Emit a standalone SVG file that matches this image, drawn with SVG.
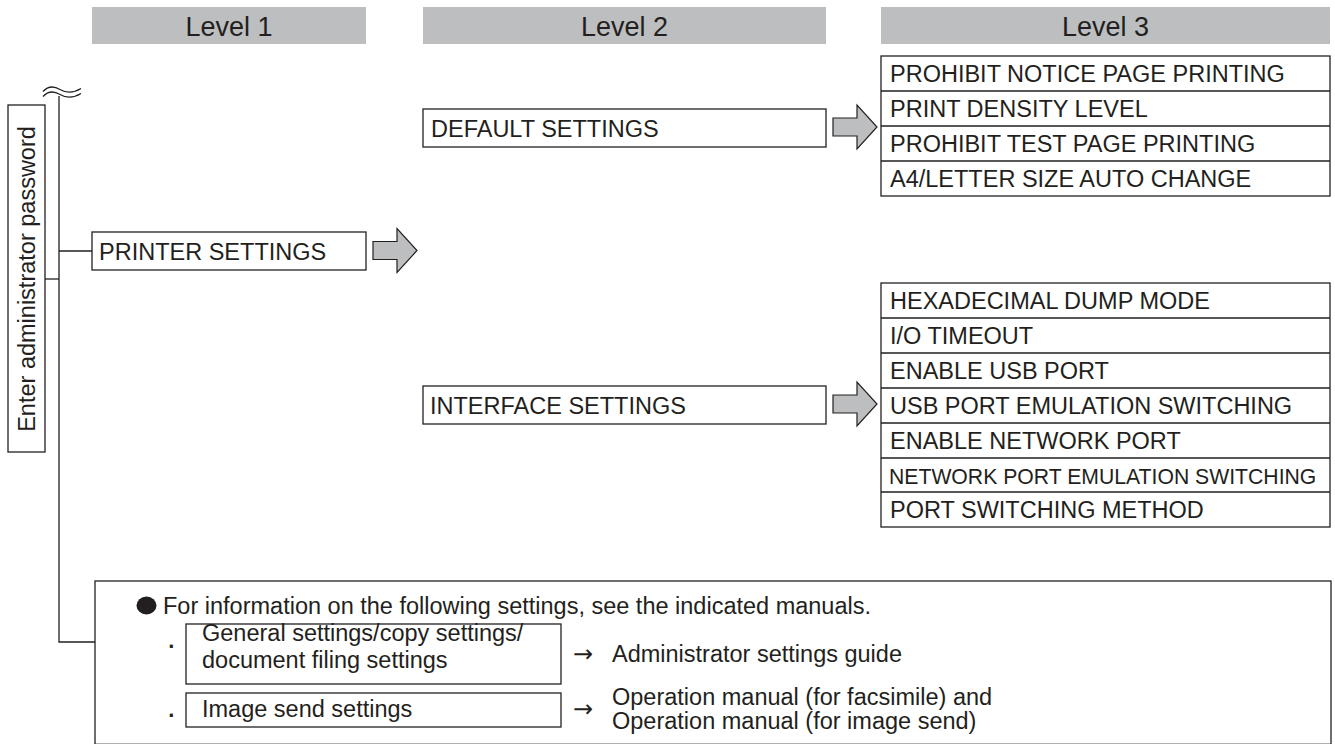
<svg xmlns="http://www.w3.org/2000/svg" width="1335" height="744" viewBox="0 0 1335 744">
<style>
text{font-family:"Liberation Sans",Arial,Helvetica,sans-serif;fill:#231f20}
.hdr{fill:#bcbec0}
.ht{font-size:27px;text-anchor:middle}
.box{fill:#fff;stroke:#231f20;stroke-width:1.3}
.t{font-size:23.5px}
.ln{fill:none;stroke:#231f20;stroke-width:1.3}
.arr{fill:#bcbec0;stroke:#231f20;stroke-width:1.2;stroke-linejoin:miter}
.to{font-family:"DejaVu Sans",sans-serif;font-size:24px}
.dot{font-size:32px}
</style>
<defs>
<path id="bigarrow" d="M0,-9 H24 V-22 L44,0 L24,22 V9 H0 Z"/>
</defs>
<g id="headers">
<rect class="hdr" x="92" y="7" width="274" height="37"/>
<text class="ht" x="229" y="36">Level 1</text>
<rect class="hdr" x="423" y="7" width="403" height="37"/>
<text class="ht" x="624.5" y="36">Level 2</text>
<rect class="hdr" x="881" y="7" width="449" height="37"/>
<text class="ht" x="1105.5" y="36">Level 3</text>
</g>
<g id="connectors">
<path class="ln" d="M43,91.5 C48,86 54,86 60,89.5 S72,94 81,88.5"/>
<path class="ln" d="M43,96.5 C48,91 54,91 60,94.5 S72,99 81,93.5"/>
<path class="ln" d="M59,96 V642 H95"/>
<path class="ln" d="M45,279 H59"/>
<path class="ln" d="M59,251 H92"/>
<use href="#bigarrow" class="arr" x="373" y="250.5"/>
<use href="#bigarrow" class="arr" x="833" y="127"/>
<use href="#bigarrow" class="arr" x="833" y="404"/>
</g>
<g id="node-enter-password">
<rect class="box" x="8" y="105" width="37" height="347"/>
<text class="t" transform="translate(35,279) rotate(-90)" text-anchor="middle">Enter administrator password</text>
</g>
<g id="node-printer-settings">
<rect class="box" x="92" y="232" width="274" height="38"/>
<text class="t" x="99" y="259.5">PRINTER SETTINGS</text>
</g>
<g id="node-default-settings">
<rect class="box" x="423" y="109" width="403" height="38"/>
<text class="t" x="431" y="136.5">DEFAULT SETTINGS</text>
</g>
<g id="node-interface-settings">
<rect class="box" x="423" y="386" width="403" height="38"/>
<text class="t" x="430" y="413.5">INTERFACE SETTINGS</text>
</g>
<g id="node-default-list">
<rect class="box" x="881" y="56" width="449" height="140"/>
<path class="ln" d="M881,91 H1330 M881,126 H1330 M881,161 H1330"/>
<text class="t" x="890" y="82">PROHIBIT NOTICE PAGE PRINTING</text>
<text class="t" x="890" y="117">PRINT DENSITY LEVEL</text>
<text class="t" x="890" y="152">PROHIBIT TEST PAGE PRINTING</text>
<text class="t" x="890" y="187">A4/LETTER SIZE AUTO CHANGE</text>
</g>
<g id="node-interface-list">
<rect class="box" x="881" y="283" width="449" height="244"/>
<path class="ln" d="M881,318 H1330 M881,353 H1330 M881,388 H1330 M881,423 H1330 M881,458 H1330 M881,492 H1330"/>
<text class="t" x="890" y="309">HEXADECIMAL DUMP MODE</text>
<text class="t" x="890" y="344">I/O TIMEOUT</text>
<text class="t" x="890" y="379">ENABLE USB PORT</text>
<text class="t" x="890" y="414">USB PORT EMULATION SWITCHING</text>
<text class="t" x="890" y="449">ENABLE NETWORK PORT</text>
<text class="t" x="889" y="483.5" style="font-size:21.2px">NETWORK PORT EMULATION SWITCHING</text>
<text class="t" x="890" y="518">PORT SWITCHING METHOD</text>
</g>
<g id="node-note">
<rect class="box" x="95" y="581" width="1236" height="163.3"/>
<ellipse cx="146.5" cy="605.5" rx="10" ry="9" fill="#231f20"/>
<text class="t" x="163" y="614">For information on the following settings, see the indicated manuals.</text>
<text class="dot" x="166" y="654.5">·</text>
<rect class="box" x="186" y="624" width="375" height="60"/>
<text class="t" x="202" y="641">General settings/copy settings/</text>
<text class="t" x="202" y="668">document filing settings</text>
<text class="to" x="573" y="661.5">→</text>
<text class="t" x="612" y="662">Administrator settings guide</text>
<text class="dot" x="166" y="723.5">·</text>
<rect class="box" x="186" y="693" width="375" height="34"/>
<text class="t" x="202" y="717">Image send settings</text>
<text class="to" x="573" y="716.5">→</text>
<text class="t" x="612" y="705">Operation manual (for facsimile) and</text>
<text class="t" x="612" y="729">Operation manual (for image send)</text>
</g>
</svg>
